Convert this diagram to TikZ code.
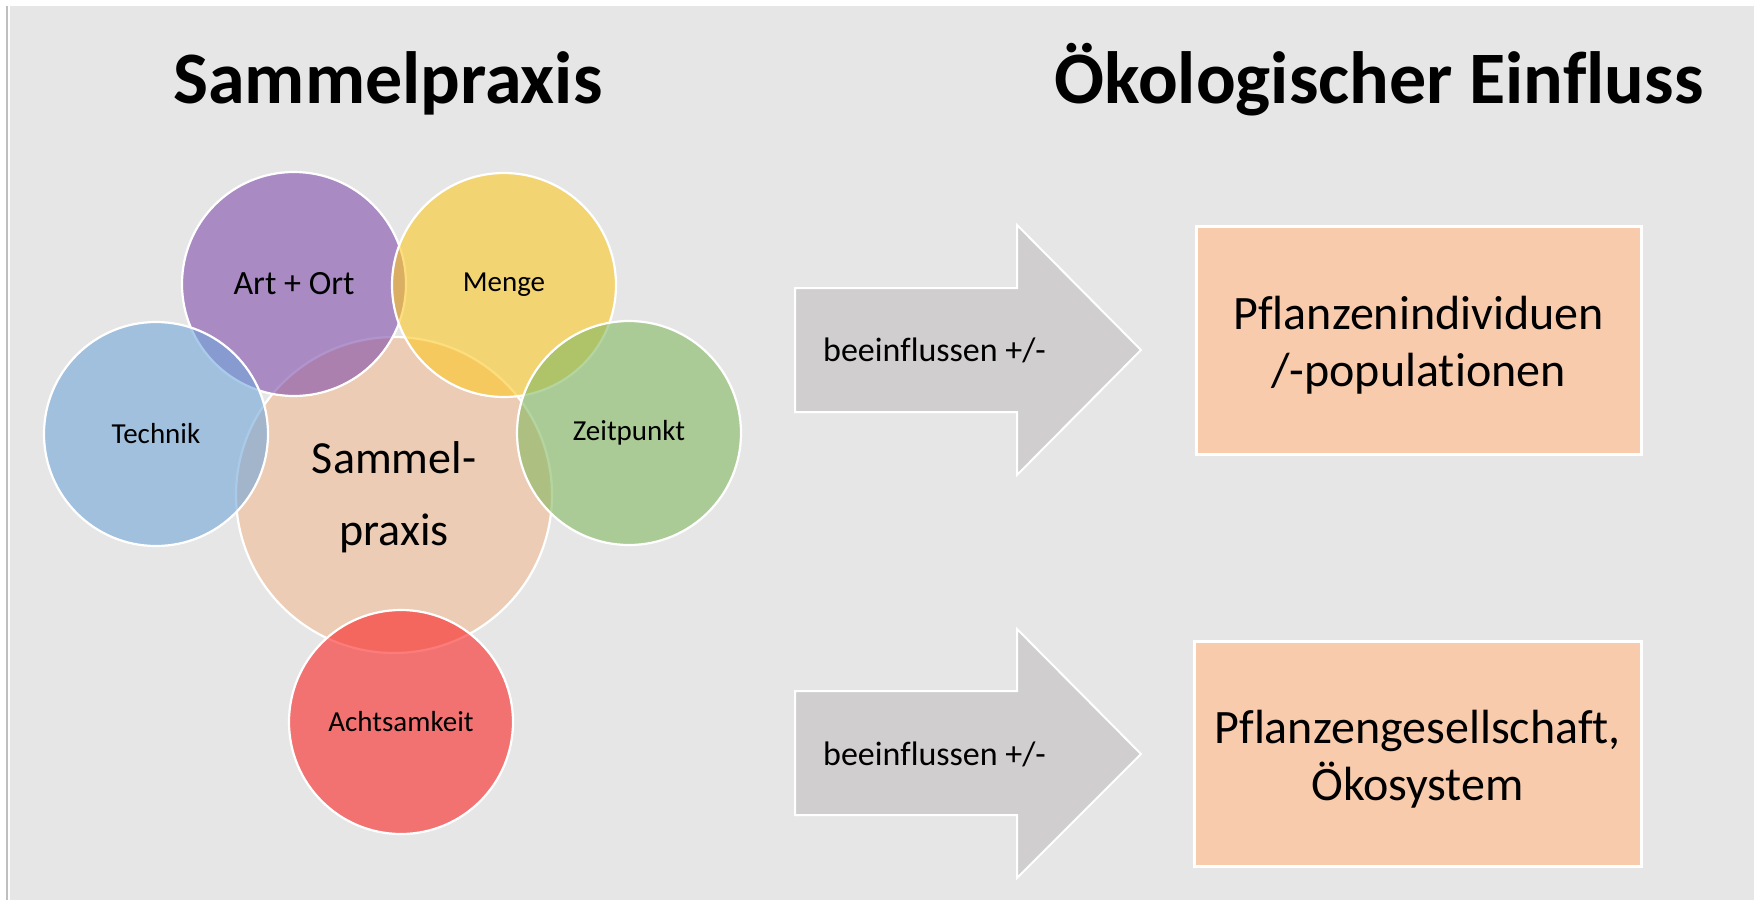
\documentclass[tikz,border=0pt]{standalone}
\usepackage{fontspec}
\setmainfont{Carlito}[Ligatures=NoCommon]
\definecolor{bgc}{RGB}{231,230,230}
\definecolor{framec}{RGB}{191,191,191}
\definecolor{peachc}{RGB}{240,188,148}
\definecolor{purplec}{RGB}{128,78,173}
\definecolor{yellowc}{RGB}{252,200,38}
\definecolor{bluec}{RGB}{113,167,217}
\definecolor{greenc}{RGB}{131,185,98}
\definecolor{redc}{RGB}{250,37,37}
\definecolor{arrowc}{RGB}{208,206,206}
\definecolor{boxc}{RGB}{248,203,173}
\begin{document}
\begin{tikzpicture}[x=1pt,y=-1pt,
  circ/.style={circle, minimum size=#1, inner sep=0pt, draw=white, line width=2.2pt,
    fill opacity=0.6, draw opacity=1, text opacity=1, align=center},
  smalllbl/.style={font=\fontsize{29}{34}\selectfont},
  arrowshape/.style={fill=arrowc, draw=white, line width=2pt, line join=miter},
  arrowlbl/.style={font=\fontsize{34}{40}\selectfont, anchor=west, inner sep=0pt},
  resultbox/.style={fill=boxc, draw=white, line width=3pt, align=center,
    font=\fontsize{48}{57}\selectfont},
  title/.style={anchor=base, inner sep=0pt, font=\bfseries\fontsize{74}{84}\selectfont}]
\useasboundingbox (0,0) rectangle (1754,900);
\fill[white] (0,0) rectangle (1754,900);
\fill[bgc] (10,6) rectangle (1754,900);
\draw[framec, line width=1.5pt] (7,6) -- (7,900);

% titles
\node[title] (t1) at (388,103) {Sammelpraxis};
\node[title] (t2) at (1379,103) {Ökologischer Einfluss};

% circles
\node[circ=316, fill=peachc] (sp) at (394,495) {};
\node[circ=224, fill=purplec, font=\fontsize{34}{40}\selectfont] (art) at (294,284) {Art + Ort};
\node[circ=224, fill=yellowc, smalllbl] (menge) at (504,285) {Menge};
\node[circ=224, fill=bluec, smalllbl] (tech) at (156,434) {Technik};
\node[circ=224, fill=greenc, smalllbl] (zeit) at (629,433) {Zeitpunkt};
\node[circ=224, fill=redc, smalllbl] (acht) at (401,722) {Achtsamkeit};
\node[align=center, font=\fontsize{46}{72}\selectfont] (sptext) at (394,497) {Sammel-\\praxis};

% arrows
\draw[arrowshape] (795,288) -- (1017,288) -- (1017,225) -- (1141,350) -- (1017,475) -- (1017,412) -- (795,412) -- cycle;
\node[arrowlbl] (a1) at (823,350) {beeinflussen +/-};
\draw[arrowshape] (795,691) -- (1017,691) -- (1017,629) -- (1141,754) -- (1017,878) -- (1017,815) -- (795,815) -- cycle;
\node[arrowlbl] (a2) at (823,754) {beeinflussen +/-};

% result boxes
\node[resultbox, minimum width=445, minimum height=228] (b1) at (1418.5,340) {};
\node[align=center, font=\fontsize{48}{57}\selectfont] (b1t) at (1418.5,345) {Pflanzenindividuen\\/-populationen};
\node[resultbox, minimum width=447, minimum height=225] (b2) at (1417.5,754) {};
\node[align=center, font=\fontsize{48}{57}\selectfont] (b2t) at (1417.5,759) {Pflanzengesellschaft,\\Ökosystem};
\end{tikzpicture}
\end{document}
